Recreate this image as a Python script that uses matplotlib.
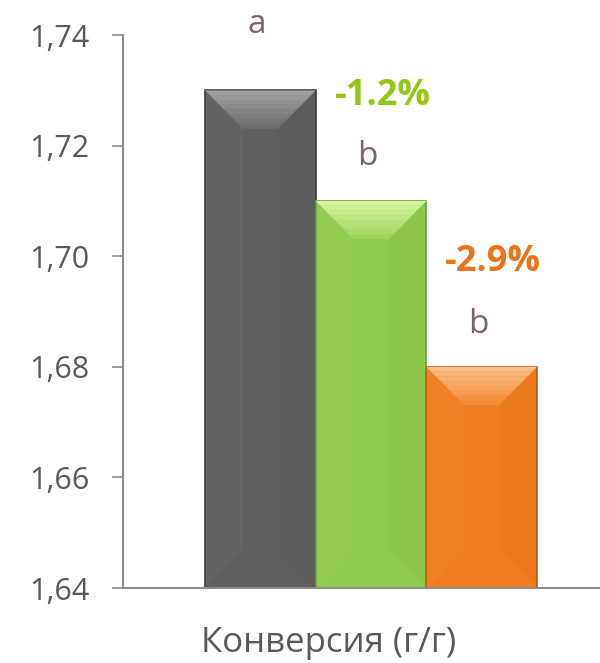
import matplotlib
matplotlib.use("Agg")
import matplotlib.pyplot as plt
from matplotlib.patches import Polygon
from matplotlib.ticker import FuncFormatter

# Feed conversion for three groups
groups = ["Контроль", "Группа 1", "Группа 2"]
values = [1.73, 1.71, 1.68]
letters = ["a", "b", "b"]
changes = [None, "-1.2%", "-2.9%"]
bar_colors = ["#5e5e5e", "#8fcb4e", "#f07d20"]
edge_colors = ["#3c3c3c", "#72a03e", "#b95e16"]
light_colors = ["#a0a0a0", "#d4f59a", "#fbbd85"]
change_colors = [None, "#92c714", "#ec7318"]
y_ticks = [1.64, 1.66, 1.68, 1.70, 1.72, 1.74]
xlabel = "Конверсия (г/г)"

plt.rcParams["font.family"] = ["Open Sans", "DejaVu Sans"]

fig = plt.figure(figsize=(6.0, 6.63), dpi=100)
ax = fig.add_axes([0.205, 0.113, 0.795, 0.834])

ymin, ymax = 1.64, 1.74
x = list(range(len(values)))
bars = ax.bar(x, [v - ymin for v in values], bottom=ymin, width=1.0,
              color=bar_colors, edgecolor=edge_colors, linewidth=1.2, zorder=2)

# bevel shading: light band along the top, faint side panels
dx, dy = 0.34, 0.0069
n_bands = 8
for rect, light in zip(bars, light_colors):
    x0, w = rect.get_x(), rect.get_width()
    y0 = rect.get_y()
    top = y0 + rect.get_height()
    for i in range(n_bands):
        f0, f1 = i / n_bands, (i + 1) / n_bands
        band = [(x0 + dx * f0, top - dy * f0), (x0 + w - dx * f0, top - dy * f0),
                (x0 + w - dx * f1, top - dy * f1), (x0 + dx * f1, top - dy * f1)]
        ax.add_patch(Polygon(band, closed=True, facecolor=light, edgecolor="none",
                             alpha=0.85 * (1 - f0) + 0.15, zorder=3))
    left_side = [(x0, top), (x0 + dx, top - dy), (x0 + dx, y0 + dy), (x0, y0)]
    right_side = [(x0 + w, top), (x0 + w - dx, top - dy), (x0 + w - dx, y0 + dy), (x0 + w, y0)]
    ax.add_patch(Polygon(left_side, closed=True, facecolor="white", edgecolor="none",
                         alpha=0.03, zorder=3))
    ax.add_patch(Polygon(right_side, closed=True, facecolor="black", edgecolor="none",
                         alpha=0.02, zorder=3))

for xi, v, letter, gap in zip(x, values, letters, [0.0104, 0.0065, 0.0062]):
    ax.text(xi - 0.03, v + gap, letter, ha="center", va="baseline",
            fontsize=24, color="#7a6072", zorder=4)

for rect, v, ch, col in zip(bars, values, changes, change_colors):
    if ch is None:
        continue
    ax.text(rect.get_x() + 0.17, v + 0.0174, ch, ha="left", va="baseline",
            fontsize=26, fontweight="bold", color=col, zorder=4)

ax.set_ylim(ymin, ymax)
ax.set_xlim(-1.241, 3.069)
ax.set_yticks(y_ticks)
ax.yaxis.set_major_formatter(FuncFormatter(lambda v, _: f"{v:.2f}".replace(".", ",")))
ax.tick_params(axis="y", direction="out", length=8, width=1.2, color="#8c8c8c",
               labelsize=22, labelcolor="#595959", pad=16)
ax.set_xticks([])
ax.set_xlabel(xlabel, fontsize=25, color="#595959")
ax.xaxis.label.set_va("center")
ax.xaxis.set_label_coords(0.43, -0.0995)

for side in ["top", "right"]:
    ax.spines[side].set_visible(False)
for side in ["left", "bottom"]:
    ax.spines[side].set_color("#8c8c8c")
    ax.spines[side].set_linewidth(1.5)

fig.savefig("out.png", dpi=100)
